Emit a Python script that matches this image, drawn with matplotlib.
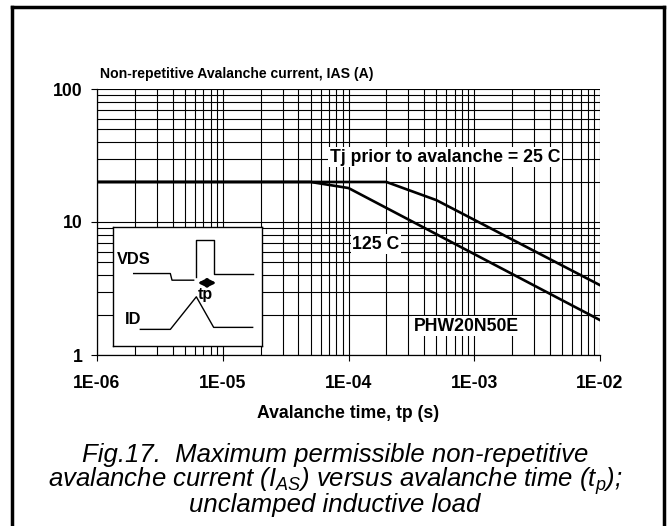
import numpy as np
import matplotlib
matplotlib.use('Agg')
import matplotlib.pyplot as plt
from matplotlib.lines import Line2D

plt.rcParams['font.family'] = ['Liberation Sans', 'DejaVu Sans']
plt.rcParams['mathtext.fontset'] = 'custom'
plt.rcParams['mathtext.it'] = 'Liberation Sans:italic'
plt.rcParams['mathtext.rm'] = 'Liberation Sans:italic'

# avalanche curves (time in s, current in A)
t_25 = [1e-6, 2e-4, 5e-4, 1e-2]
i_25 = [20, 20, 14.6, 3.35]
t_125 = [1e-6, 5e-5, 1e-4, 1e-2]
i_125 = [20, 20, 18.0, 1.83]

xticks = [1e-6, 1e-5, 1e-4, 1e-3, 1e-2]
xticklabels = ['1E-06', '1E-05', '1E-04', '1E-03', '1E-02']
yticks = [1, 10, 100]

# waveform sketch in the inset (sketch units)
vds_x1 = [130, 240, 245, 310]
vds_y1 = [160, 160, 180, 180]
vds_x2 = [318, 318, 370, 370, 487]
vds_y2 = [170, 60, 60, 160, 160]
id_x = [150, 240, 318, 370, 487]
id_y = [328, 328, 230, 322, 322]

fig = plt.figure(figsize=(6.69, 5.26), dpi=100)
W, H = 669, 526
ax = fig.add_axes([97 / W, 1 - 355 / H, 503 / W, 266 / H])
ax.set_xscale('log')
ax.set_yscale('log')
ax.set_xlim(1e-6, 1e-2)
ax.set_ylim(1, 100)

ax.grid(True, which='both', color='black', lw=0.8)
ax.set_axisbelow(True)
ax.set_xticks(xticks)
ax.set_xticklabels(xticklabels)
ax.set_yticks(yticks)
ax.set_yticklabels(['1', '10', '100'])
ax.tick_params(which='major', direction='out', length=4.5, width=0.8, labelsize=12.7)
ax.tick_params(axis='x', pad=10)
ax.tick_params(axis='y', pad=6)
ax.tick_params(which='minor', length=0)
for lab in ax.get_xticklabels() + ax.get_yticklabels():
    lab.set_fontweight('bold')
for s in ['top', 'right']:
    ax.spines[s].set_visible(False)
ax.spines['left'].set_linewidth(0.9)
ax.spines['bottom'].set_linewidth(0.9)

ax.plot(t_25, i_25, color='black', lw=1.9, zorder=3)
ax.plot(t_125, i_125, color='black', lw=1.9, zorder=3)

bb = dict(facecolor='white', edgecolor='none', pad=1)
lbl = dict(fontsize=12.7, fontweight='bold', va='center', ha='left', bbox=bb, zorder=4)
ax.text(7.1e-5, 30.8, 'Tj prior to avalanche = 25 C', **lbl)
ax.text(1.07e-4, 6.83, '125 C', **lbl)
ax.text(3.3e-4, 1.65, 'PHW20N50E', **lbl)

ax.set_xlabel('Avalanche time, tp (s)', fontsize=12.7, fontweight='bold', labelpad=9)
fig.text(100 / W, 1 - 74 / H, 'Non-repetitive Avalanche current, IAS (A)',
         fontsize=10.1, fontweight='bold', va='center', ha='left')

# inset waveform sketch
ins = fig.add_axes([113 / W, 1 - 346 / H, 149 / W, 119 / H])
ins.set_xlim(68, 515)
ins.set_ylim(378, 20)
ins.set_xticks([])
ins.set_yticks([])
for s in ins.spines.values():
    s.set_linewidth(1)
ins.plot(vds_x1, vds_y1, color='black', lw=1)
ins.plot(vds_x2, vds_y2, color='black', lw=1)
ins.plot(id_x, id_y, color='black', lw=1)
ins.annotate('', xy=(322, 188), xytext=(378, 188),
             arrowprops=dict(arrowstyle='<|-|>', color='black', lw=2,
                             mutation_scale=12, shrinkA=0, shrinkB=0))
ins.text(80, 118, 'VDS', fontsize=11.8, fontweight='bold', va='center', ha='left')
ins.text(103, 298, 'ID', fontsize=11.8, fontweight='bold', va='center', ha='left')
ins.text(345, 222, 'tp', fontsize=11.5, fontweight='bold', va='center', ha='center')

# caption
cap = dict(fontsize=18.5, fontstyle='italic', ha='center', va='baseline')
fig.text(335 / W, 1 - 462 / H, 'Fig.17.  Maximum permissible non-repetitive', **cap)
fig.text(335 / W, 1 - 487 / H, r'avalanche current ($I_{AS}$) versus avalanche time ($t_p$);', **cap)
fig.text(335 / W, 1 - 512 / H, 'unclamped inductive load', **cap)

# outer frame
for xs, ys in [([12, 12], [7, 530]), ([664, 664], [7, 530]), ([12, 664], [7, 7])]:
    fig.add_artist(Line2D([x / W for x in xs], [1 - y / H for y in ys],
                          color='black', lw=2.5))

fig.savefig('out.png', dpi=100)
